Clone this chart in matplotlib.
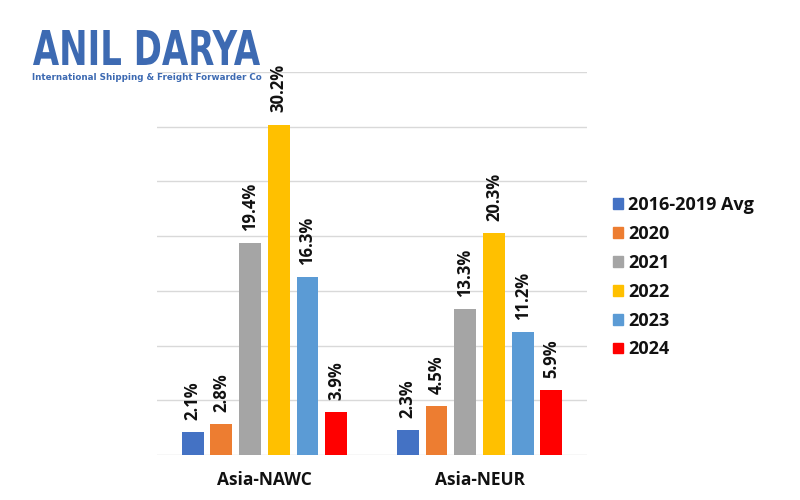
import numpy as np
import matplotlib
matplotlib.use("Agg")
import matplotlib.pyplot as plt
from matplotlib.patches import Patch, PathPatch
from matplotlib.textpath import TextPath
from matplotlib.font_manager import FontProperties
from matplotlib.transforms import Affine2D

# data
routes = ["Asia-NAWC", "Asia-NEUR"]
series = ["2016-2019 Avg", "2020", "2021", "2022", "2023", "2024"]
nawc = [2.1, 2.8, 19.4, 30.2, 16.3, 3.9]
neur = [2.3, 4.5, 13.3, 20.3, 11.2, 5.9]
colors = ["#4472C4", "#ED7D31", "#A5A5A5", "#FFC000", "#5B9BD5", "#FF0000"]

plt.rcParams['font.family'] = ['Open Sans', 'DejaVu Sans']

fig = plt.figure(figsize=(8, 5), dpi=100)
ax = fig.add_axes([0.196, 0.09, 0.538, 0.766])

x = np.arange(len(routes))
step = 0.1335
width = 0.102
values = np.array([nawc, neur]).T  # one row per series

for i, name in enumerate(series):
    pos = x + (i - 2.5) * step
    ax.bar(pos, values[i], width=width, color=colors[i], zorder=3)
    for px, v in zip(pos, values[i]):
        ax.text(px, v + 1.1, f"{v:.1f}%", rotation=90, ha="center", va="bottom",
                fontsize=12, fontweight="bold", color="#111111")

ax.set_xlim(-0.5, 1.5)
ax.set_ylim(0, 35)
ax.set_yticks(np.arange(0, 36, 5))
ax.yaxis.grid(True, color="#D9D9D9", lw=1, zorder=0)
ax.tick_params(axis="y", left=False, labelleft=False)
ax.tick_params(axis="x", bottom=False, pad=8)
ax.set_xticks(x)
ax.set_xticklabels(routes, fontsize=12.5, fontweight="bold", color="#111111")
for s in ax.spines.values():
    s.set_visible(False)

handles = [Patch(color=c) for c in colors]
fig.legend(handles, series, loc="upper left", bbox_to_anchor=(0.746, 0.64),
           frameon=False, prop={"size": 13, "weight": "bold"},
           handlelength=0.55, handleheight=0.55, handletextpad=0.3,
           labelspacing=0.6, labelcolor="#111111")

# logo, drawn in pixel coordinates and squeezed to the logo width
logo_ax = fig.add_axes([0, 0, 1, 1], zorder=5)
logo_ax.set_xlim(0, 800)
logo_ax.set_ylim(0, 500)
logo_ax.axis("off")
tp = TextPath((0, 0), "ANIL DARYA", size=48,
              prop=FontProperties(family="DejaVu Sans", weight="heavy"))
ext = tp.get_extents()
sx = 227 / ext.width
sy = 35 / ext.height
tr = Affine2D().translate(-ext.x0, -ext.y0).scale(sx, sy).translate(33, 500 - 65)
logo_ax.add_patch(PathPatch(tr.transform_path(tp), color="#3D6AB2", lw=0))
fig.text(0.04, 0.84, "International Shipping & Freight Forwarder Co",
         fontsize=6.3, fontweight="bold", color="#3D6AB2", family="DejaVu Sans")

fig.savefig("out.png", dpi=100, facecolor="white")
